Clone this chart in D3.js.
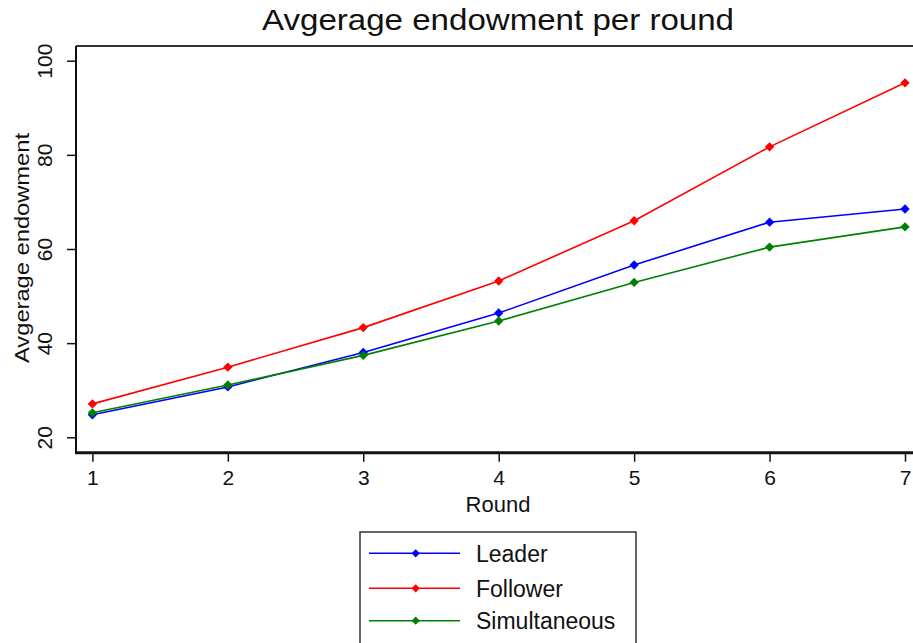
<!DOCTYPE html>
<html><head><meta charset="utf-8">
<script src="https://cdn.jsdelivr.net/npm/d3@7"></script>
<style>html,body{margin:0;padding:0;background:#fff;overflow:hidden}</style>
</head><body>
<svg id="c" width="913" height="643"></svg>
<script>
const rounds = [1, 2, 3, 4, 5, 6, 7];
const leader = [24.8, 30.7, 38.0, 46.4, 56.6, 65.7, 68.5];
const follower = [27.1, 34.9, 43.3, 53.2, 66.0, 81.7, 95.3];
const simultaneous = [25.2, 31.1, 37.4, 44.7, 52.9, 60.4, 64.7];
const yTicks = [20, 40, 60, 80, 100];
const seriesNames = ["Leader", "Follower", "Simultaneous"];
const seriesColors = ["#0000ff", "#ff0000", "#008000"];
const seriesValues = [leader, follower, simultaneous];

const svg = d3.select("#c");
const font = "Arial, 'Liberation Sans', sans-serif";
const x = d3.scaleLinear().domain([1, 7]).range([92.4, 905]);
const y = d3.scaleLinear().domain([20, 100]).range([437.3, 60.7]);

const pLeft = 76, pTop = 46, pBottom = 452.7, pRight = 930;

// frame
svg.append("line").attr("x1", pLeft).attr("x2", pRight).attr("y1", pTop).attr("y2", pTop)
  .attr("stroke", "#333").attr("stroke-width", 2);
svg.append("line").attr("x1", pLeft).attr("x2", pLeft).attr("y1", pTop).attr("y2", pBottom)
  .attr("stroke", "#111").attr("stroke-width", 2);

// y axis
const yAxis = svg.append("g").attr("transform", `translate(${pLeft},0)`)
  .call(d3.axisLeft(y).tickValues(yTicks).tickSize(9).tickPadding(0).tickFormat(d3.format("d")));
yAxis.select(".domain").remove();
yAxis.selectAll(".tick line").attr("stroke", "#111").attr("stroke-width", 1.5);
yAxis.selectAll(".tick text")
  .attr("transform", "translate(-31,0) rotate(-90)")
  .attr("x", 0).attr("dy", "0.35em").attr("dx", 0)
  .attr("text-anchor", "middle")
  .style("font-family", font).style("font-size", "21px").attr("fill", "#111");

// x axis
const xAxis = svg.append("g").attr("transform", `translate(0,${pBottom})`)
  .call(d3.axisBottom(x).tickValues(rounds).tickSize(9).tickPadding(8).tickFormat(d3.format("d")));
xAxis.select(".domain").remove();
xAxis.selectAll(".tick line").attr("stroke", "#111").attr("stroke-width", 1.5);
xAxis.selectAll(".tick text").style("font-family", font).style("font-size", "21px").attr("fill", "#111");
svg.append("line").attr("x1", pLeft - 1).attr("x2", pRight).attr("y1", pBottom).attr("y2", pBottom)
  .attr("stroke", "#111").attr("stroke-width", 3);

// titles
svg.append("text").attr("x", 498).attr("y", 30).attr("text-anchor", "middle")
  .attr("textLength", 472).attr("lengthAdjust", "spacingAndGlyphs")
  .style("font-family", font).style("font-size", "29px").attr("fill", "#111")
  .text("Avgerage endowment per round");
svg.append("text").attr("x", 498).attr("y", 512).attr("text-anchor", "middle")
  .style("font-family", font).style("font-size", "22px").attr("fill", "#111")
  .text("Round");
svg.append("text").attr("transform", "translate(29,248) rotate(-90)").attr("text-anchor", "middle")
  .attr("textLength", 230).attr("lengthAdjust", "spacingAndGlyphs")
  .style("font-family", font).style("font-size", "21px").attr("fill", "#111")
  .text("Avgerage endowment");

// lines
const line = d3.line().x((d, i) => x(rounds[i])).y(d => y(d));
const diamond = d3.symbol().type(d3.symbolSquare).size(44);
const legDiamond = d3.symbol().type(d3.symbolSquare).size(34);
seriesValues.forEach((vals, k) => {
  svg.append("path").datum(vals).attr("d", line).attr("fill", "none")
    .attr("stroke", seriesColors[k]).attr("stroke-width", 1.6);
  svg.append("g").selectAll("path").data(vals).join("path")
    .attr("d", diamond)
    .attr("transform", (d, i) => `translate(${x(rounds[i])},${y(d)}) rotate(45)`)
    .attr("fill", seriesColors[k]);
});

// legend
const lg = svg.append("g");
lg.append("rect").attr("x", 360).attr("y", 532).attr("width", 276).attr("height", 130)
  .attr("fill", "#fff").attr("stroke", "#333").attr("stroke-width", 1.5);
const rowY = [553.3, 588.3, 620.7];
const legLen = [69, 84, 141];
seriesNames.forEach((name, k) => {
  lg.append("line").attr("x1", 369).attr("x2", 460).attr("y1", rowY[k]).attr("y2", rowY[k])
    .attr("stroke", seriesColors[k]).attr("stroke-width", 1.6);
  lg.append("path").attr("d", legDiamond)
    .attr("transform", `translate(415.7,${rowY[k]}) rotate(45)`).attr("fill", seriesColors[k]);
  lg.append("text").attr("x", 476).attr("y", rowY[k]).attr("dy", "0.36em")
    .style("font-family", font).style("font-size", "23px").attr("fill", "#111")
    .text(name);
});
</script>
</body></html>
